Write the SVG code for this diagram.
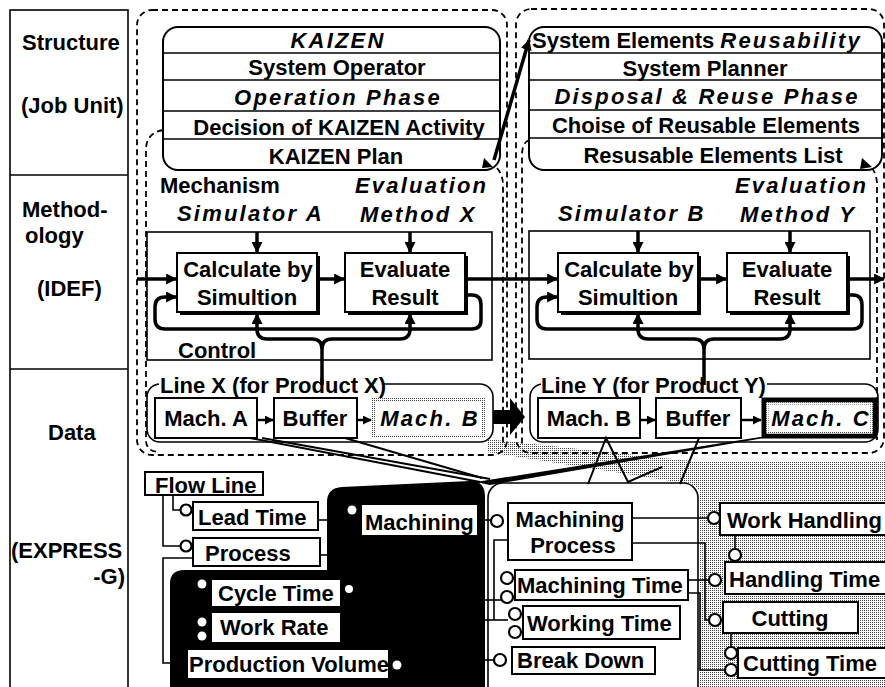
<svg xmlns="http://www.w3.org/2000/svg" width="885" height="687" viewBox="0 0 885 687">
<defs>
<style>
.t{font-family:"Liberation Sans",Arial,sans-serif;font-weight:bold;font-size:22px;fill:#000}
.i{font-style:italic;letter-spacing:2.2px}
.m{text-anchor:middle}
.ln{fill:none;stroke:#000;stroke-width:1.6}
.dash{fill:none;stroke:#000;stroke-width:1.8;stroke-dasharray:6 4}
.box{fill:#fff;stroke:#000;stroke-width:2}
.thick{fill:none;stroke:#000;stroke-width:3.5}
.eb{fill:#fff;stroke:#000;stroke-width:2}
.cir{fill:#fff;stroke:#000;stroke-width:2.2}
.dot{fill:#fff}
</style>
<pattern id="stip" width="2" height="2" patternUnits="userSpaceOnUse">
<rect width="2" height="2" fill="#fff"/>
<rect width="1" height="1" fill="#444"/>
</pattern>
<marker id="ah" viewBox="0 0 10 10" refX="9" refY="5" markerWidth="11" markerHeight="11" markerUnits="userSpaceOnUse" orient="auto">
<path d="M0,0 L10,5 L0,10 Z" fill="#000"/>
</marker>
<marker id="as" viewBox="0 0 10 10" refX="9" refY="5" markerWidth="9" markerHeight="9" markerUnits="userSpaceOnUse" orient="auto">
<path d="M0,0 L10,5 L0,10 Z" fill="#000"/>
</marker>
</defs>
<rect width="885" height="687" fill="#fff"/>

<!-- left label column -->
<g id="labels">
<rect x="10" y="10" width="118" height="690" class="ln"/>
<line x1="10" y1="175" x2="128" y2="175" class="ln"/>
<line x1="10" y1="369" x2="128" y2="369" class="ln"/>
<text class="t" x="22" y="50">Structure</text>
<text class="t" x="21" y="113">(Job Unit)</text>
<text class="t" x="22" y="217">Method-</text>
<text class="t" x="25" y="243">ology</text>
<text class="t" x="37" y="296">(IDEF)</text>
<text class="t" x="48" y="440">Data</text>
<text class="t" x="11" y="558">(EXPRESS</text>
<text class="t" x="125" y="584" text-anchor="end">-G)</text>
</g>

<!-- stipple areas -->
<g id="stipple">
<path d="M487,440 L497,440 L700,462 L885,462 L885,687 L700,687 L700,495 Q700,486 690,484 L487,452 Z" fill="url(#stip)"/>
</g>

<!-- dashed job-unit outlines -->
<g id="units">
<rect x="137" y="10" width="370" height="445" rx="15" class="dash"/>
<path d="M163,130 Q146,133 146,150 L146,440 Q146,452 160,452" class="dash"/>
<path d="M497,168 Q503,175 503,185 L503,445" class="dash"/>
<rect x="516" y="9" width="368" height="444" rx="15" class="dash"/>
<path d="M529,140 Q522,143 522,155 L522,445" class="dash"/>
<path d="M872,168 Q877,175 877,185 L877,440" class="dash"/>
</g>

<!-- structure boxes -->
<g id="kaizen">
<rect x="163" y="27" width="337" height="143" rx="15" class="box"/>
<line x1="163" y1="53" x2="500" y2="53" class="ln" stroke-width="2"/>
<line x1="163" y1="80" x2="500" y2="80" class="ln" stroke-width="2"/>
<line x1="163" y1="111" x2="500" y2="111" class="ln" stroke-width="2"/>
<line x1="163" y1="139" x2="500" y2="139" class="ln" stroke-width="2"/>
<text class="t i m" x="338" y="48">KAIZEN</text>
<text class="t m" x="337" y="75">System Operator</text>
<text class="t i m" x="338" y="105">Operation Phase</text>
<text class="t m" x="339" y="135">Decision of KAIZEN Activity</text>
<text class="t m" x="336" y="164">KAIZEN Plan</text>
<path d="M484,158 L493,167 L482,168 Z" fill="#000"/>
</g>
<g id="reuse">
<rect x="529" y="27" width="353" height="143" rx="15" class="box"/>
<line x1="529" y1="53" x2="882" y2="53" class="ln" stroke-width="2"/>
<line x1="529" y1="80" x2="882" y2="80" class="ln" stroke-width="2"/>
<line x1="529" y1="110" x2="882" y2="110" class="ln" stroke-width="2"/>
<line x1="529" y1="138" x2="882" y2="138" class="ln" stroke-width="2"/>
<text class="t" x="532" y="48">System Elements <tspan class="i">Reusability</tspan></text>
<text class="t m" x="705" y="76">System Planner</text>
<text class="t i m" x="707" y="104">Disposal &amp; Reuse Phase</text>
<text class="t m" x="706" y="133">Choise of Reusable Elements</text>
<text class="t m" x="713" y="163">Resusable Elements List</text>
<path d="M862,158 L872,167 L860,169 Z" fill="#000"/>
</g>

<!-- IDEF labels -->
<g id="idef-labels">
<text class="t" x="160" y="193">Mechanism</text>
<text class="t i" x="177" y="221">Simulator A</text>
<text class="t i" x="355" y="193">Evaluation</text>
<text class="t i" x="360" y="222">Method X</text>
<text class="t i" x="558" y="221">Simulator B</text>
<text class="t i" x="735" y="193">Evaluation</text>
<text class="t i" x="740" y="222">Method Y</text>
</g>

<!-- IDEF frames -->
<g id="idef-x">
<rect x="147" y="232" width="345" height="128" class="ln"/>
<text class="t" x="178" y="358">Control</text>
</g>
<g id="idef-y">
<rect x="529" y="231" width="341" height="128" class="ln"/>
</g>

<g id="calc-x">
<rect x="180" y="256" width="140" height="59" fill="#000"/>
<rect x="177" y="253" width="140" height="59" class="box"/>
<text class="t m" x="248" y="277">Calculate by</text>
<text class="t m" x="247" y="305">Simultion</text>
</g>
<g id="eval-x">
<rect x="348" y="256" width="120" height="59" fill="#000"/>
<rect x="345" y="253" width="120" height="59" class="box"/>
<text class="t m" x="405" y="277">Evaluate</text>
<text class="t m" x="405" y="305">Result</text>
</g>
<g id="calc-y">
<rect x="561" y="256" width="140" height="59" fill="#000"/>
<rect x="558" y="253" width="140" height="59" class="box"/>
<text class="t m" x="629" y="277">Calculate by</text>
<text class="t m" x="628" y="305">Simultion</text>
</g>
<g id="eval-y">
<rect x="730" y="256" width="120" height="59" fill="#000"/>
<rect x="727" y="253" width="120" height="59" class="box"/>
<text class="t m" x="787" y="277">Evaluate</text>
<text class="t m" x="787" y="305">Result</text>
</g>

<!-- Data lines -->
<g id="line-x">
<rect x="147" y="384" width="346" height="58" rx="13" class="ln"/>
<rect x="159" y="376" width="225" height="14" fill="#fff"/>
<text class="t" x="160" y="393">Line X (for Product X)</text>
</g>
<g id="mach-a-x">
<rect x="155" y="398" width="102" height="40" class="box"/>
<text class="t m" x="206" y="426">Mach. A</text>
</g>
<g id="buffer-x">
<rect x="274" y="398" width="83" height="40" class="box"/>
<text class="t m" x="315" y="426">Buffer</text>
</g>
<g id="mach-b-x">
<rect x="372" y="398" width="113" height="40" fill="url(#stip)"/>
<rect x="375" y="401" width="107" height="34" fill="#fff"/>
<text class="t i m" x="430" y="426">Mach. B</text>
</g>
<g id="line-y">
<rect x="530" y="384" width="348" height="58" rx="13" class="ln"/>
<rect x="541" y="376" width="226" height="14" fill="#fff"/>
<text class="t" x="541" y="393">Line Y (for Product Y)</text>
</g>
<g id="mach-b-y">
<rect x="538" y="398" width="102" height="40" class="box"/>
<text class="t m" x="589" y="426">Mach. B</text>
</g>
<g id="buffer-y">
<rect x="656" y="398" width="85" height="40" class="box"/>
<text class="t m" x="698" y="426">Buffer</text>
</g>
<g id="mach-c-y">
<rect x="764" y="400" width="111" height="36" fill="#fff" stroke="#000" stroke-width="5"/>
<rect x="767.5" y="403.5" width="104" height="29" fill="none" stroke="url(#stip)" stroke-width="2"/>
<text class="t i m" x="821" y="426">Mach. C</text>
</g>

<!-- EXPRESS-G -->
<g id="black-area">
<path d="M342,487 L470,481 Q485,481 485,496 L485,700 L170,700 L170,584 Q170,570 184,570 L327,570 L327,502 Q327,488 342,487 Z" fill="#000"/>
</g>
<g id="mid-area">
<rect x="488" y="483" width="210" height="230" rx="15" class="ln"/>
</g>

<g id="connectors">
<line x1="494" y1="160" x2="529" y2="40" class="thick" marker-end="url(#ah)"/>
<line x1="257" y1="232" x2="257" y2="252" class="thick" marker-end="url(#ah)"/>
<line x1="410" y1="232" x2="410" y2="252" class="thick" marker-end="url(#ah)"/>
<line x1="137" y1="279" x2="176" y2="279" class="thick" marker-end="url(#ah)"/>
<line x1="320" y1="279" x2="344" y2="279" class="thick" marker-end="url(#ah)"/>
<line x1="468" y1="279" x2="557" y2="279" class="thick" marker-end="url(#ah)"/>
<path d="M468,295 L472,295 Q481,295 481,305 L481,320 Q481,329 472,329 L165,329 Q155,329 155,319 L155,307 Q155,297 165,297 L176,297" class="thick" marker-end="url(#ah)"/>
<path d="M322,385 L322,349 Q322,339 312,339 L267,339 Q257,339 257,329 L257,314" class="thick" marker-end="url(#ah)"/>
<path d="M322,349 Q322,339 332,339 L400,339 Q410,339 410,329 L410,314" class="thick" marker-end="url(#ah)"/>
<line x1="638" y1="231" x2="638" y2="252" class="thick" marker-end="url(#ah)"/>
<line x1="790" y1="231" x2="790" y2="252" class="thick" marker-end="url(#ah)"/>
<line x1="701" y1="279" x2="726" y2="279" class="thick" marker-end="url(#ah)"/>
<line x1="850" y1="279" x2="884" y2="279" class="thick" marker-end="url(#ah)"/>
<path d="M850,295 L853,295 Q862,295 862,305 L862,320 Q862,329 853,329 L547,329 Q537,329 537,319 L537,307 Q537,297 547,297 L557,297" class="thick" marker-end="url(#ah)"/>
<path d="M704,385 L704,349 Q704,339 694,339 L648,339 Q638,339 638,329 L638,314" class="thick" marker-end="url(#ah)"/>
<path d="M704,349 Q704,339 714,339 L780,339 Q790,339 790,329 L790,314" class="thick" marker-end="url(#ah)"/>
<line x1="257" y1="420" x2="273" y2="420" stroke="#000" stroke-width="2.5" marker-end="url(#as)"/>
<line x1="357" y1="420" x2="371" y2="420" stroke="#000" stroke-width="2.5" marker-end="url(#as)"/>
<line x1="640" y1="420" x2="655" y2="420" stroke="#000" stroke-width="2.5" marker-end="url(#as)"/>
<line x1="741" y1="420" x2="761" y2="420" stroke="#000" stroke-width="2.5" marker-end="url(#as)"/>
<path d="M493,410 L510,410 L510,398 L525,417 L510,435 L510,424 L493,424 Z" fill="#000"/>
<line x1="250" y1="438" x2="480" y2="482" stroke="#000" stroke-width="2"/>
<line x1="262" y1="438" x2="490" y2="479" stroke="#000" stroke-width="2"/>
<line x1="345" y1="438" x2="482" y2="478" stroke="#000" stroke-width="2"/>
<path d="M760,437 L770,437 L490,485 L476,482 Z" fill="#000"/>
<polyline points="588,484 606,438 628,482 662,467" fill="none" stroke="#000" stroke-width="2"/>
<line x1="699" y1="438" x2="680" y2="484" stroke="#000" stroke-width="2"/>
<path d="M163,495 L163,546 L180,546" class="ln" stroke-width="2"/>
<path d="M173,495 L173,510 L180,510" class="ln" stroke-width="2"/>
<path d="M200,558 L163,558 L163,663 L172,663" class="ln" stroke-width="2"/>
<line x1="318" y1="520" x2="328" y2="520" class="ln" stroke-width="2"/>
<line x1="320" y1="555" x2="328" y2="555" class="ln" stroke-width="2"/>
<line x1="477" y1="520" x2="491" y2="520" class="ln" stroke-width="2"/>
<line x1="485" y1="600" x2="501" y2="600" class="ln" stroke-width="2"/>
<line x1="485" y1="620" x2="508" y2="620" class="ln" stroke-width="2"/>
<line x1="485" y1="660" x2="494" y2="660" class="ln" stroke-width="2"/>
<path d="M508,540 L494,540 L494,620" class="ln" stroke-width="2"/>
<line x1="632" y1="518" x2="707" y2="518" class="ln" stroke-width="2"/>
<path d="M632,543 L705,543 L705,620 L709,620" class="ln" stroke-width="2"/>
<line x1="688" y1="580" x2="709" y2="580" class="ln" stroke-width="2"/>
<path d="M688,593 L700,593 L700,670 L725,670" class="ln" stroke-width="2"/>
<line x1="735" y1="535" x2="735" y2="549" class="ln" stroke-width="2"/>
<line x1="731" y1="633" x2="731" y2="646" class="ln" stroke-width="2"/>
</g>

<g id="flow-line">
<rect x="145" y="472" width="118" height="23" class="eb"/>
<text class="t" x="155" y="493">Flow Line</text>
</g>
<g id="lead-time">
<rect x="193" y="502" width="125" height="28" class="eb"/>
<text class="t" x="198" y="525">Lead Time</text>
<circle cx="186" cy="510" r="5.5" class="cir"/>
</g>
<g id="process">
<rect x="193" y="538" width="127" height="28" class="eb"/>
<text class="t" x="205" y="561">Process</text>
<circle cx="186" cy="546" r="5.5" class="cir"/>
</g>
<g id="machining">
<rect x="362" y="505" width="115" height="30" fill="#fff"/>
<text class="t" x="365" y="530">Machining</text>
<circle cx="352" cy="510" r="4.5" class="dot"/>
</g>
<g id="cycle-time">
<rect x="212" y="580" width="128" height="26" fill="#fff"/>
<text class="t" x="218" y="601">Cycle Time</text>
<circle cx="202" cy="584" r="4.5" class="dot"/>
<circle cx="349" cy="589" r="4" class="dot"/>
</g>
<g id="work-rate">
<rect x="212" y="613" width="128" height="29" fill="#fff"/>
<text class="t" x="220" y="635">Work Rate</text>
<circle cx="202" cy="622" r="4.5" class="dot"/>
<circle cx="202" cy="636" r="4.5" class="dot"/>
</g>
<g id="production-volume">
<rect x="188" y="650" width="200" height="28" fill="#fff"/>
<text class="t" x="189" y="672">Production Volume</text>
<circle cx="397" cy="665" r="4.5" class="dot"/>
</g>
<g id="machining-process">
<rect x="508" y="503" width="124" height="57" class="eb"/>
<text class="t m" x="570" y="527">Machining</text>
<text class="t m" x="573" y="553">Process</text>
<circle cx="497" cy="521" r="6" class="cir"/>
</g>
<g id="machining-time">
<rect x="515" y="570" width="173" height="30" class="eb"/>
<text class="t" x="517" y="593">Machining Time</text>
<circle cx="507" cy="578" r="6" class="cir"/>
<circle cx="507" cy="597" r="6" class="cir"/>
</g>
<g id="working-time">
<rect x="523" y="606" width="157" height="33" class="eb"/>
<text class="t" x="527" y="631">Working Time</text>
<circle cx="515" cy="614" r="6" class="cir"/>
<circle cx="515" cy="632" r="6" class="cir"/>
</g>
<g id="break-down">
<rect x="512" y="647" width="143" height="27" class="eb"/>
<text class="t" x="517" y="668">Break Down</text>
<circle cx="500" cy="660" r="6" class="cir"/>
</g>
<g id="work-handling">
<rect x="720" y="503" width="175" height="32" class="eb"/>
<text class="t" x="727" y="528">Work Handling</text>
<circle cx="714" cy="518" r="6" class="cir"/>
</g>
<g id="handling-time">
<rect x="725" y="562" width="170" height="32" class="eb"/>
<text class="t" x="729" y="587">Handling Time</text>
<circle cx="735" cy="555" r="6" class="cir"/>
<circle cx="715" cy="580" r="6" class="cir"/>
</g>
<g id="cutting">
<rect x="723" y="602" width="135" height="31" class="eb"/>
<text class="t m" x="790" y="626">Cutting</text>
<circle cx="715" cy="620" r="6" class="cir"/>
</g>
<g id="cutting-time">
<rect x="738" y="648" width="155" height="30" class="eb"/>
<text class="t" x="743" y="671">Cutting Time</text>
<circle cx="731" cy="653" r="6" class="cir"/>
<circle cx="731" cy="670" r="6" class="cir"/>
</g>
</svg>
